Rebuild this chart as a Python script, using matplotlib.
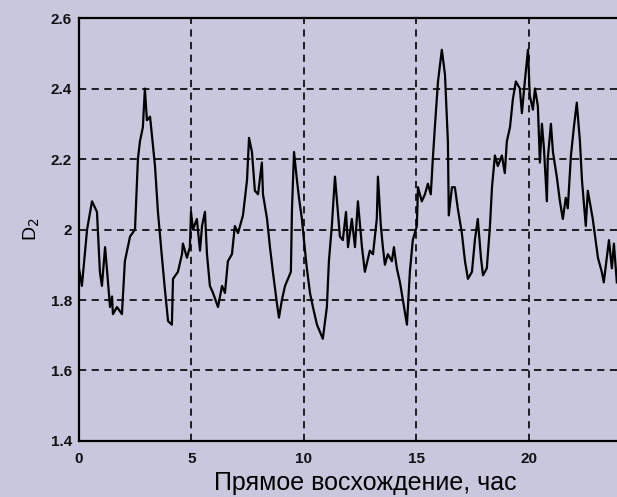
import numpy as np
import matplotlib.pyplot as plt

# right ascension, hours
ra_hours = [0.00, 0.13, 0.36, 0.58, 0.80, 0.93, 1.02, 1.16, 1.24, 1.38, 1.47, 1.51, 1.69, 1.91,
            2.04, 2.27, 2.49, 2.62, 2.71, 2.84, 2.93, 3.02, 3.16, 3.24, 3.38, 3.51, 3.69, 3.82,
            3.96, 4.13, 4.18, 4.40, 4.58, 4.62, 4.80, 4.93, 4.98, 5.07, 5.24, 5.38, 5.47, 5.60,
            5.69, 5.82, 5.96, 6.18, 6.36, 6.49, 6.62, 6.80, 6.93, 7.07, 7.29, 7.47, 7.56, 7.69,
            7.82, 7.96, 8.13, 8.18, 8.36, 8.49, 8.62, 8.80, 8.89, 9.02, 9.16, 9.29, 9.42, 9.47,
            9.56, 9.69, 9.78, 9.91, 10.00, 10.13, 10.27, 10.40, 10.58, 10.71, 10.84, 11.02, 11.11,
            11.24, 11.38, 11.47, 11.60, 11.73, 11.87, 11.96, 12.13, 12.27, 12.40, 12.58, 12.71,
            12.93, 13.07, 13.24, 13.29, 13.42, 13.51, 13.60, 13.73, 13.91, 14.00, 14.13, 14.27,
            14.40, 14.58, 14.71, 14.84, 15.02, 15.07, 15.24, 15.38, 15.51, 15.64, 15.73, 15.82,
            15.96, 16.13, 16.27, 16.40, 16.44, 16.58, 16.71, 16.84, 17.02, 17.16, 17.29, 17.47,
            17.60, 17.73, 17.87, 17.96, 18.13, 18.27, 18.36, 18.49, 18.62, 18.80, 18.93, 19.02,
            19.16, 19.29, 19.42, 19.60, 19.69, 19.82, 19.96, 20.04, 20.18, 20.27, 20.40, 20.49,
            20.58, 20.67, 20.80, 20.84, 20.98, 21.07, 21.24, 21.38, 21.51, 21.64, 21.73, 21.87,
            22.00, 22.13, 22.27, 22.36, 22.53, 22.62, 22.76, 22.84, 23.07, 23.24, 23.33, 23.56,
            23.69, 23.78, 23.91]

d2 = [1.89, 1.84, 2.00, 2.08, 2.05, 1.88, 1.84, 1.95, 1.89, 1.78, 1.81, 1.76, 1.78, 1.76,
      1.91, 1.98, 2.00, 2.20, 2.25, 2.29, 2.40, 2.31, 2.32, 2.27, 2.18, 2.05, 1.92, 1.83,
      1.74, 1.73, 1.86, 1.88, 1.93, 1.96, 1.92, 1.95, 2.05, 2.00, 2.03, 1.94, 2.01, 2.05,
      1.93, 1.84, 1.82, 1.78, 1.84, 1.82, 1.91, 1.93, 2.01, 1.99, 2.04, 2.14, 2.26, 2.22,
      2.11, 2.10, 2.19, 2.10, 2.03, 1.95, 1.88, 1.79, 1.75, 1.80, 1.84, 1.86, 1.88, 2.06,
      2.22, 2.14, 2.09, 2.03, 1.97, 1.89, 1.82, 1.78, 1.73, 1.71, 1.69, 1.78, 1.91,
      2.01, 2.15, 2.08, 1.98, 1.97, 2.05, 1.95, 2.03, 1.95, 2.08, 1.95, 1.88,
      1.94, 1.93, 2.03, 2.15, 2.01, 1.95, 1.90, 1.93, 1.91, 1.95, 1.89, 1.85,
      1.80, 1.73, 1.88, 1.97, 2.01, 2.12, 2.08, 2.10, 2.13, 2.10, 2.20, 2.29,
      2.42, 2.51, 2.44, 2.25, 2.04, 2.12, 2.12, 2.06, 1.99, 1.91, 1.86, 1.88,
      1.97, 2.03, 1.92, 1.87, 1.89, 2.01, 2.12, 2.21, 2.18, 2.21, 2.16, 2.25,
      2.29, 2.37, 2.42, 2.40, 2.33, 2.42, 2.51, 2.38, 2.34, 2.40, 2.35, 2.19,
      2.30, 2.23, 2.08, 2.20, 2.30, 2.22, 2.15, 2.08, 2.03, 2.09, 2.06, 2.21,
      2.29, 2.36, 2.25, 2.14, 2.01, 2.11, 2.06, 2.03, 1.92, 1.88, 1.85, 1.97,
      1.89, 1.96, 1.85]

x_ticks = [0, 5, 10, 15, 20]
y_ticks = [1.4, 1.6, 1.8, 2.0, 2.2, 2.4, 2.6]
y_ticklabels = ["1.4", "1.6", "1.8", "2", "2.2", "2.4", "2.6"]

bg = "#c9c7dd"
plt.rcParams["font.family"] = ["Liberation Sans", "DejaVu Sans"]

fig = plt.figure(figsize=(6.17, 4.97), dpi=100, facecolor=bg)
ax = fig.add_axes([0.128, 0.1127, 0.875, 0.851], facecolor=bg)

ax.plot(ra_hours, d2, color="black", linewidth=1.6)

ax.set_xlim(0, 24)
ax.set_ylim(1.4, 2.6)
ax.set_xticks(x_ticks)
ax.set_yticks(y_ticks)
ax.set_yticklabels(y_ticklabels)
ax.tick_params(length=0, labelsize=11, colors="#111111")
ax.tick_params(axis="x", pad=8)
ax.tick_params(axis="y", pad=5)
for lab in ax.get_xticklabels() + ax.get_yticklabels():
    lab.set_fontweight("bold")

ax.grid(True, color="#111111", linestyle=(0, (4, 3)), linewidth=1.3)

for side in ["left", "bottom", "top"]:
    ax.spines[side].set_linewidth(1.6)
ax.spines["right"].set_visible(False)

ax.set_xlabel("Прямое восхождение, час", fontsize=18)
ax.xaxis.set_label_coords(0.53, -0.072)
ax.set_ylabel(r"D$_2$", fontsize=14, labelpad=6)

fig.savefig("out.png", dpi=100, facecolor=bg)
